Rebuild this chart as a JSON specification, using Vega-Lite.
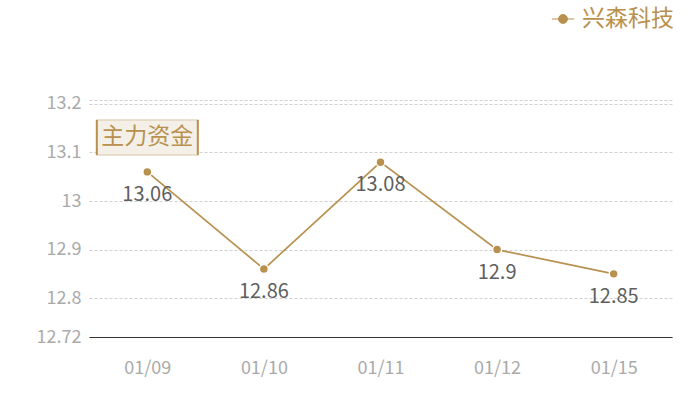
{
  "$schema": "https://vega.github.io/schema/vega-lite/v6.json",
  "autosize": "none",
  "width": 583,
  "height": 237,
  "padding": {"left": 89, "top": 100, "right": 28, "bottom": 63},
  "background": "white",
  "config": {"view": {"stroke": null}, "font": "Noto Sans CJK SC"},
  "datasets": {
    "series": [
      {"date": "01/09", "price": 13.06, "name": "兴森科技"},
      {"date": "01/10", "price": 12.86, "name": "兴森科技"},
      {"date": "01/11", "price": 13.08, "name": "兴森科技"},
      {"date": "01/12", "price": 12.9, "name": "兴森科技"},
      {"date": "01/15", "price": 12.85, "name": "兴森科技"}
    ],
    "note": [{"date": "01/09", "price": 13.131, "label": "主力资金"}]
  },
  "data": {"name": "series"},
  "encoding": {
    "x": {
      "field": "date", "type": "ordinal", "sort": null,
      "scale": {"type": "point", "padding": 0.5},
      "axis": {"title": null, "labelAngle": 0, "labelColor": "#aaaaaa", "labelFontSize": 18, "labelPadding": 22, "ticks": false, "domainColor": "#333333", "domainWidth": 1, "grid": false}
    },
    "y": {
      "field": "price", "type": "quantitative",
      "scale": {"domain": [12.72, 13.208], "nice": false, "zero": false},
      "axis": {"title": null, "values": [12.72, 12.8, 12.9, 13, 13.1, 13.2, 13.208], "format": "~g", "labelExpr": "datum.value > 13.205 ? '' : datum.label", "labelColor": "#aaaaaa", "labelFontSize": 18, "labelPadding": 8, "ticks": false, "domain": false, "grid": true, "gridColor": "#d0d0d0", "gridDash": [3, 2], "gridWidth": 1}
    },
    "color": {"field": "name", "type": "nominal", "scale": {"range": ["#b8914f"]},
      "legend": {"title": null, "orient": "none", "legendX": 462, "legendY": -93, "labelFontSize": 23, "labelColor": "#b8914f", "symbolType": "M-1,0L-0.4,0M0.4,0L1,0M-0.4,0A0.4,0.4 0 1 0 0.4,0A0.4,0.4 0 1 0 -0.4,0Z", "symbolSize": 500, "symbolStrokeWidth": 1, "symbolFillColor": "#b8914f", "symbolStrokeColor": "#b8914f", "labelOffset": 7}}
  },
  "layer": [
    {
      "mark": {"type": "line", "strokeWidth": 1.7}
    },
    {
      "mark": {"type": "point", "filled": true, "size": 80, "stroke": "white", "strokeWidth": 1.5, "opacity": 1}
    },
    {
      "mark": {"type": "text", "dy": 23, "fontSize": 20, "color": "#5f5f5f", "baseline": "middle"},
      "encoding": {"text": {"field": "price", "type": "quantitative"}, "color": {"value": "#5f5f5f"}}
    },
    {
      "data": {"name": "note"},
      "mark": {"type": "point", "shape": "M-1,-0.3465H1V0.3465H-1Z", "size": 10201, "filled": true, "fill": "#f4efe7", "stroke": "#e3d6c0", "strokeWidth": 1.5, "opacity": 1},
      "encoding": {"color": {"value": "#f4efe7"}}
    },
    {
      "data": {"name": "note"},
      "mark": {"type": "point", "shape": "M-1,-0.3465V0.3465M1,-0.3465V0.3465", "size": 10201, "filled": false, "stroke": "#b8914f", "strokeWidth": 2, "opacity": 1},
      "encoding": {"color": {"value": "#b8914f"}}
    },
    {
      "data": {"name": "note"},
      "mark": {"type": "text", "fontSize": 23, "color": "#b8914f", "baseline": "middle", "align": "center"},
      "encoding": {"text": {"field": "label"}, "color": {"value": "#b8914f"}}
    }
  ]
}
